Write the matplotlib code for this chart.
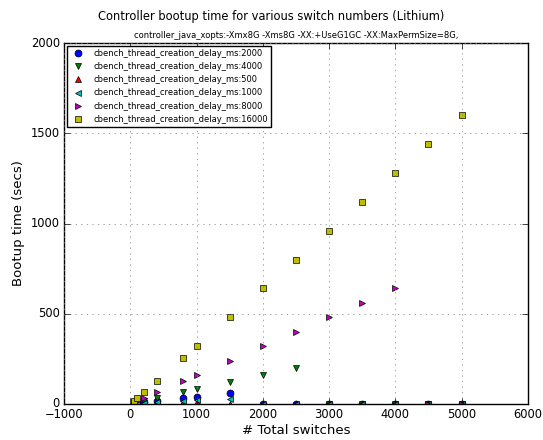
import matplotlib
matplotlib.use("Agg")
import matplotlib.pyplot as plt

plt.style.use('classic')

switches = [50, 100, 200, 400, 800, 1000, 1500, 2000, 2500, 3000, 3500, 4000, 4500, 5000]
labels = ["cbench_thread_creation_delay_ms:2000",
          "cbench_thread_creation_delay_ms:4000",
          "cbench_thread_creation_delay_ms:500",
          "cbench_thread_creation_delay_ms:1000",
          "cbench_thread_creation_delay_ms:8000",
          "cbench_thread_creation_delay_ms:16000"]
delay_2000 = [2, 4, 8, 16, 32, 40, 60, 0, 0, 0, 0, 0, 0, 0]
delay_4000 = [4, 8, 16, 32, 64, 80, 120, 160, 200, 0, 0, 0, 0, 0]
delay_500 = [0.5, 1, 2, 4, 8, 10, 0, 0, 0, 0, 0, 0, 0, 0]
delay_1000 = [1, 2, 4, 8, 16, 20, 30, 0, 0, 0, 0, 0, 0, 0]
delay_8000 = [8, 16, 32, 64, 128, 160, 240, 320, 400, 480, 560, 640, 0, 0]
delay_16000 = [16, 32, 64, 128, 256, 320, 480, 640, 800, 960, 1120, 1280, 1440, 1600]

series = [delay_2000, delay_4000, delay_500, delay_1000, delay_8000, delay_16000]
markers = ['o', 'v', '^', '<', '>', 's']
colors = ['b', 'g', 'r', 'c', 'm', 'y']

fig = plt.figure(figsize=(5.43, 4.40), dpi=100, facecolor='white')
ax = fig.add_axes([0.118, 0.082, 0.854, 0.820])
for vals, mk, c, lab in zip(series, markers, colors, labels):
    ax.plot(switches, vals, linestyle='none', marker=mk, color=c,
            markeredgecolor='k', markersize=5, label=lab)

ax.set_xlim(-1000, 6000)
ax.set_ylim(0, 2000)
ax.set_xticks(range(-1000, 6001, 1000))
ax.set_yticks(range(0, 2001, 500))
ax.tick_params(labelsize=8.3, pad=3)
ax.grid(True, linestyle=':', color='gray')
ax.set_xlabel('# Total switches', fontsize=9.5, labelpad=2)
ax.set_ylabel('Bootup time (secs)', fontsize=9.5, labelpad=4)
ax.set_title('controller_java_xopts:-Xmx8G -Xms8G -XX:+UseG1GC -XX:MaxPermSize=8G,', fontsize=6.0, pad=4)
fig.suptitle('Controller bootup time for various switch numbers (Lithium)', fontsize=8.3, y=0.978, va='top')
ax.legend(loc='upper left', numpoints=1, fontsize=6, borderaxespad=0.3, handletextpad=0.8)

fig.savefig('out.png', dpi=100, facecolor='white')
